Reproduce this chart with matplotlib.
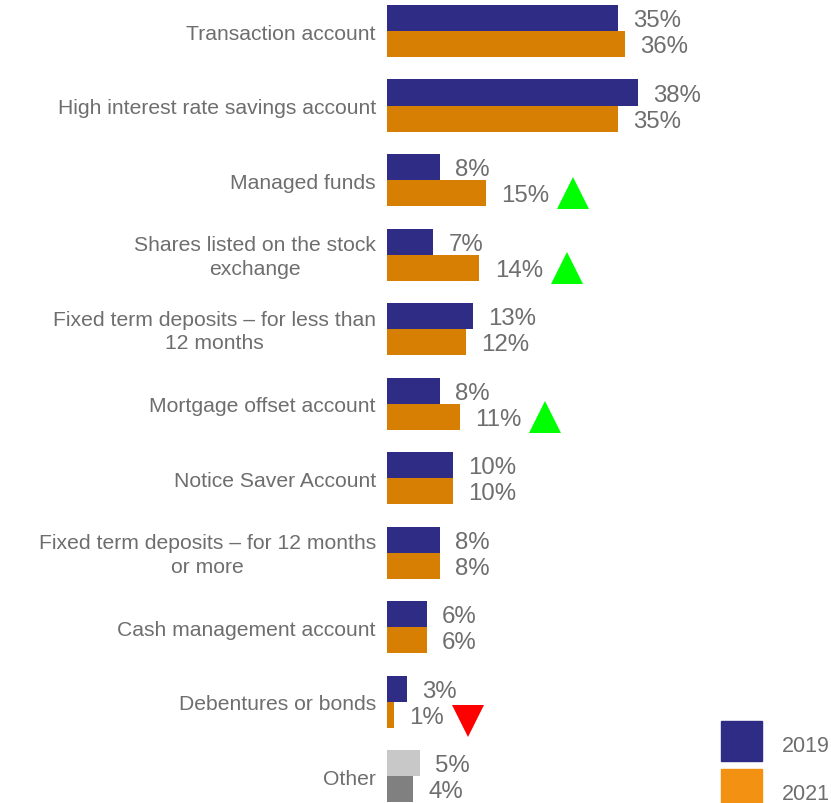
import matplotlib
matplotlib.use('Agg')
import matplotlib.pyplot as plt
from matplotlib.patches import Rectangle

plt.rcParams['font.family'] = ['Liberation Sans', 'DejaVu Sans']

categories = [
    'Transaction account',
    'High interest rate savings account',
    'Managed funds',
    'Shares listed on the stock\nexchange',
    'Fixed term deposits \u2013 for less than\n12 months',
    'Mortgage offset account',
    'Notice Saver Account',
    'Fixed term deposits \u2013 for 12 months\nor more',
    'Cash management account',
    'Debentures or bonds',
    'Other',
]
v2019 = [35, 38, 8, 7, 13, 8, 10, 8, 6, 3, 5]
v2021 = [36, 35, 15, 14, 12, 11, 10, 8, 6, 1, 4]
# significant change flags for 2021
change = ['', '', 'up', 'up', '', 'up', '', '', '', 'down', '']

BLUE = '#2E2C84'
ORANGE = '#D67F03'
ORANGE_KEY = '#F39112'
GRAY_LIGHT = '#C8C8C8'
GRAY_DARK = '#808080'
TEXT = '#6E6E6E'

W, H = 831, 804
fig = plt.figure(figsize=(W / 100, H / 100), dpi=100)
ax = fig.add_axes([387 / W, 0, (W - 387) / W, 1])

n = len(categories)
ys = list(range(n))
bh = 0.35
c19 = [BLUE] * (n - 1) + [GRAY_LIGHT]
c21 = [ORANGE] * (n - 1) + [GRAY_DARK]

ax.barh([y - bh / 2 for y in ys], v2019, height=bh, color=c19)
ax.barh([y + bh / 2 for y in ys], v2021, height=bh, color=c21)

ax.set_xlim(0, (W - 387) / 6.6)
ax.set_ylim(n - 1 + 0.36, -0.43)
ax.axis('off')

for y, lab in zip(ys, categories):
    ax.annotate(lab, xy=(0, y), xytext=(-8, -1.5), textcoords='offset points',
                ha='right', va='center', multialignment='center',
                fontsize=15.2, color=TEXT, linespacing=1.3)

labels21 = []
for y, a, b in zip(ys, v2019, v2021):
    ax.annotate(f'{a}%', xy=(a, y - bh / 2), xytext=(11, -1.5), textcoords='offset points',
                ha='left', va='center', fontsize=17.3, color=TEXT)
    t = ax.annotate(f'{b}%', xy=(b, y + bh / 2), xytext=(11, -1.5), textcoords='offset points',
                    ha='left', va='center', fontsize=17.3, color=TEXT)
    labels21.append(t)

# arrows next to the 2021 labels
fig.canvas.draw()
r = fig.canvas.get_renderer()
inv = ax.transData.inverted()
for y, t, flag in zip(ys, labels21, change):
    if not flag:
        continue
    bb = t.get_window_extent(r)
    xd, _ = inv.transform((bb.x1 + 8 + 16, 0))
    if flag == 'up':
        ax.plot(xd, y + bh / 2, marker='^', ms=23, mew=0, color='#00FF00', clip_on=False)
    else:
        ax.plot(xd, y + bh / 2 + 0.09, marker='v', ms=23, mew=0, color='#FF0000', clip_on=False)

# legend
for (y0, col, lab) in [(42, BLUE, '2019'), (-6, ORANGE_KEY, '2021')]:
    fig.add_artist(Rectangle((721 / W, y0 / H), 41 / W, 40 / H, color=col,
                             transform=fig.transFigure))
    fig.text(782 / W, (y0 + 15) / H, lab, fontsize=15.5, color=TEXT, va='center', ha='left')

fig.savefig('out.png', dpi=100)
